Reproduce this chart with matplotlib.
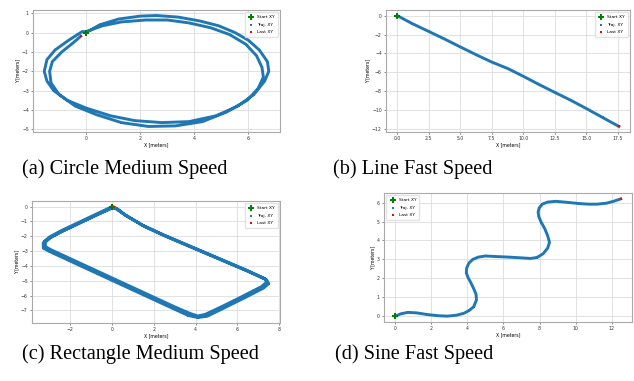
# trajectory figure - four XY paths with captions
import matplotlib.pyplot as plt

# (a) circle, two laps
circle_x = [0.0, 0.5, 1.2, 2.0, 2.6, 3.4, 4.2, 4.9, 5.5, 6.0, 6.4, 6.7, 6.75, 6.6, 6.2, 5.6,
            4.8, 3.8, 2.8, 1.8, 0.9, 0.0, -0.7, -1.2, -1.45, -1.55, -1.45, -1.15, -0.65, -0.15,
            0.0, 0.6, 1.3, 2.2, 3.0, 3.8, 4.6, 5.3, 5.9, 6.3, 6.5, 6.55, 6.35, 5.95, 5.2,
            4.3, 3.3, 2.3, 1.3, 0.4, -0.4, -1.0, -1.3, -1.35, -1.25, -0.9, -0.5, -0.2]
circle_y = [0.0, 0.4, 0.7, 0.85, 0.88, 0.8, 0.6, 0.35, 0.0, -0.4, -0.9, -1.5, -2.0, -2.5, -3.2, -3.8,
            -4.3, -4.6, -4.65, -4.55, -4.3, -3.9, -3.5, -3.0, -2.5, -2.0, -1.4, -0.9, -0.4, 0.05,
            0.05, 0.35, 0.55, 0.65, 0.65, 0.5, 0.25, -0.1, -0.6, -1.2, -1.8, -2.3, -2.9, -3.5, -4.1,
            -4.6, -4.82, -4.85, -4.65, -4.25, -3.8, -3.2, -2.6, -2.0, -1.5, -1.0, -0.55, -0.19]

# (b) line
line_x = [0.0, 1.2, 2.5, 3.8, 5.0, 6.3, 7.5, 8.8, 10.0, 11.3, 12.5, 13.8, 15.0, 16.3, 17.6]
line_y = [0.0, -0.85, -1.67, -2.5, -3.3, -4.15, -4.9, -5.6, -6.4, -7.3, -8.1, -8.95, -9.8, -10.75, -11.7]

# (c) rectangle, three laps
rect_x = [0.0, -0.6, -1.5, -2.4, -3.0, -3.25, -3.25, -3.0, -2.0, -1.0, 0.0, 1.0, 2.0, 3.0, 3.7,
          4.1, 4.5, 5.3, 6.3, 7.2, 7.45, 7.35, 6.5, 5.5, 4.5, 3.5, 2.5, 1.5, 0.6, 0.25,
          0.05, -0.55, -1.45, -2.35, -2.95, -3.2, -3.2, -2.95, -1.95, -0.95, 0.05, 1.05, 2.05,
          3.05, 3.75, 4.1, 4.45, 5.25, 6.25, 7.15, 7.4, 7.3, 6.45, 5.45, 4.45, 3.45, 2.45,
          1.45, 0.55, 0.2, 0.0, -0.65, -1.55, -2.45, -3.05, -3.3, -3.3, -3.05, -2.05, -1.05,
          -0.05, 0.95, 1.95, 2.95, 3.65, 4.1, 4.55, 5.35, 6.35, 7.25, 7.5, 7.4, 6.55, 5.55,
          4.55, 3.55, 2.55, 1.55, 0.65, 0.3, 0.1]
rect_y = [0.0, -0.4, -1.0, -1.6, -2.05, -2.35, -2.7, -2.95, -3.6, -4.25, -4.9, -5.55, -6.2, -6.85, -7.3,
          -7.45, -7.35, -6.8, -6.1, -5.45, -5.15, -4.9, -4.35, -3.75, -3.15, -2.55, -1.95, -1.3, -0.55, -0.2,
          -0.05, -0.45, -1.05, -1.65, -2.1, -2.4, -2.7, -2.9, -3.55, -4.2, -4.85, -5.5, -6.15,
          -6.8, -7.22, -7.38, -7.28, -6.75, -6.05, -5.4, -5.1, -4.85, -4.3, -3.7, -3.1, -2.5, -1.9,
          -1.25, -0.5, -0.15, -0.1, -0.5, -1.1, -1.7, -2.15, -2.45, -2.8, -3.0, -3.65, -4.3,
          -4.95, -5.6, -6.25, -6.9, -7.35, -7.48, -7.4, -6.85, -6.15, -5.5, -5.2, -4.95, -4.4,
          -3.8, -3.2, -2.6, -2.0, -1.35, -0.6, -0.2, -0.05]

# (d) sine
sine_x = [0.0, 0.3, 0.7, 1.2, 1.8, 2.4, 2.9, 3.4, 3.8, 4.1, 4.35, 4.5, 4.48, 4.35, 4.2, 4.03, 3.94,
          3.96, 4.08, 4.3, 4.6, 5.0, 5.6, 6.3, 7.0, 7.5, 7.85, 8.2, 8.45, 8.55, 8.45, 8.3, 8.1,
          7.96, 7.92, 7.98, 8.15, 8.45, 8.9, 9.5, 10.1, 10.7, 11.2, 11.7, 12.1, 12.5]
sine_y = [0.0, 0.12, 0.2, 0.17, 0.08, 0.02, 0.0, 0.05, 0.15, 0.3, 0.5, 0.85, 1.15, 1.45, 1.75, 2.05, 2.3,
          2.55, 2.8, 3.0, 3.12, 3.18, 3.15, 3.12, 3.08, 3.05, 3.1, 3.3, 3.6, 3.9, 4.25, 4.6, 4.95,
          5.25, 5.5, 5.72, 5.92, 6.03, 6.07, 6.02, 5.96, 5.92, 5.92, 5.97, 6.07, 6.2]

panels = [
    (circle_x, circle_y, [33, 10, 280, 132], 'upper right'),
    (line_x, line_y, [386, 10, 630, 132], 'upper right'),
    (rect_x, rect_y, [32, 201, 280, 323], 'upper right'),
    (sine_x, sine_y, [384, 193, 632, 322], 'upper left'),
]
captions = ['(a) Circle Medium Speed', '(b) Line Fast Speed',
            '(c) Rectangle Medium Speed', '(d) Sine Fast Speed']
caption_pos = [(22, 174), (333, 174), (22, 359), (335, 359)]

W, H = 634, 381
fig = plt.figure(figsize=(W / 100, H / 100), dpi=100)

for xs, ys, box, loc in panels:
    l, t, r, b = box
    ax = fig.add_axes([l / W, 1 - b / H, (r - l) / W, (b - t) / H])
    ax.plot(xs, ys, color='#1f77b4', lw=2.1, zorder=2, solid_joinstyle='round')
    ax.scatter(xs, ys, s=0.6, color='#1f77b4', marker='s', lw=0, zorder=2, label='Traj. XY')
    ax.scatter(xs[0], ys[0], s=20, color='green', marker='P', lw=0, zorder=4, label='Start XY')
    ax.scatter(xs[-1], ys[-1], s=4, color='red', marker='s', lw=0, zorder=4, label='Last XY')
    h, lab = ax.get_legend_handles_labels()
    order = [1, 0, 2]
    leg = ax.legend([h[i] for i in order], [lab[i] for i in order], loc=loc, fontsize=3.2,
                    frameon=True, edgecolor='#dddddd', fancybox=True, handletextpad=0.6,
                    borderpad=0.7, labelspacing=0.7, handlelength=1.5)
    for handle, size in zip(leg.legend_handles, [20, 4, 4]):
        handle.set_sizes([size])
    ax.grid(True, color='#dddddd', lw=0.6)
    ax.set_axisbelow(True)
    for s in ax.spines.values():
        s.set_color('#aaaaaa')
        s.set_linewidth(0.8)
    ax.tick_params(labelsize=3.3, length=1.5, width=0.4, pad=1.5, colors='#333333')
    ax.set_xlabel('X [meters]', fontsize=3.3, labelpad=0.5)
    ax.set_ylabel('Y [meters]', fontsize=3.3, labelpad=1)

for text, (px, py) in zip(captions, caption_pos):
    fig.text(px / W, 1 - py / H, text, fontsize=14.6, family='Liberation Serif',
             ha='left', va='baseline')

fig.savefig('out.png', dpi=100)
